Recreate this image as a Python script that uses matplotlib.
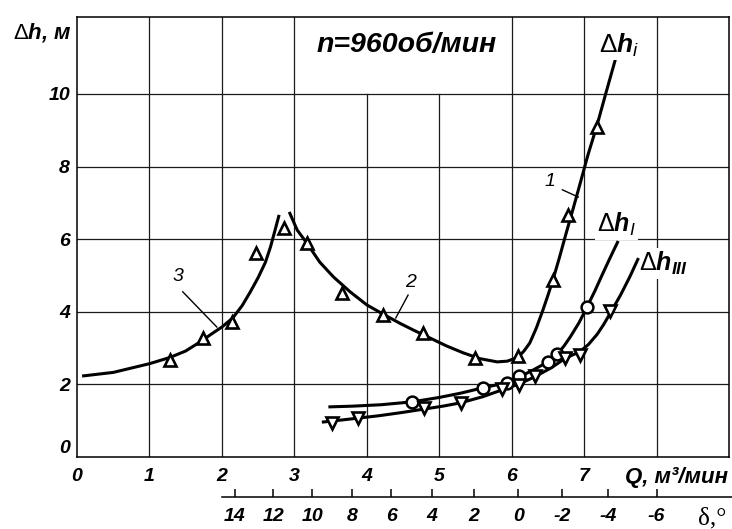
import matplotlib
matplotlib.use("Agg")
import matplotlib.pyplot as plt

plt.rcParams.update({
    "font.family": ["Liberation Sans", "DejaVu Sans"],
    "mathtext.fontset": "custom",
    "mathtext.rm": "Liberation Sans",
    "mathtext.it": "Liberation Sans:italic",
    "mathtext.bf": "Liberation Sans:bold",
    "mathtext.bfit": "Liberation Sans:bold:italic",
})

# ---------------- data ----------------
# curve 3 (left rising branch)
curve3_q = [0.07, 0.50, 1.00, 1.28, 1.50, 1.70, 1.85, 2.00, 2.15, 2.28, 2.39, 2.50, 2.60, 2.67, 2.73, 2.79]
curve3_h = [2.23, 2.33, 2.57, 2.74, 2.92, 3.17, 3.38, 3.58, 3.83, 4.17, 4.54, 4.94, 5.36, 5.78, 6.22, 6.67]
# curve 2 (falling branch)
curve2_q = [2.93, 3.04, 3.17, 3.35, 3.54, 3.77, 4.00, 4.23, 4.46, 4.64, 4.87, 5.10, 5.33, 5.56, 5.80, 5.94, 6.09]
curve2_h = [6.75, 6.25, 5.90, 5.37, 4.96, 4.55, 4.19, 3.93, 3.68, 3.50, 3.28, 3.06, 2.87, 2.71, 2.62, 2.64, 2.75]
# curve 1 (Δh_i)
curve1_q = [6.09, 6.17, 6.25, 6.34, 6.43, 6.50, 6.57, 6.66, 6.75, 6.85, 6.95, 7.05, 7.18, 7.30, 7.43]
curve1_h = [2.75, 2.92, 3.14, 3.55, 4.04, 4.45, 4.88, 5.50, 6.15, 6.85, 7.57, 8.30, 9.15, 10.02, 10.94]
# Δh_I curve
curveI_q = [3.47, 3.80, 4.20, 4.63, 5.00, 5.30, 5.59, 5.80, 5.94, 6.10, 6.30, 6.50, 6.64, 6.72, 6.81,
            6.93, 7.04, 7.15, 7.25, 7.35, 7.47]
curveI_h = [1.38, 1.40, 1.44, 1.52, 1.64, 1.76, 1.90, 1.99, 2.06, 2.20, 2.40, 2.62, 2.86, 3.05, 3.31,
            3.70, 4.13, 4.58, 5.02, 5.45, 5.95]
# Δh_III curve
curveIII_q = [3.38, 3.52, 3.88, 4.18, 4.50, 4.79, 5.05, 5.29, 5.60, 5.87, 6.10, 6.31, 6.55, 6.74, 6.94,
              7.06, 7.18, 7.27, 7.36, 7.50, 7.63, 7.75]
curveIII_h = [0.96, 0.99, 1.07, 1.14, 1.23, 1.32, 1.40, 1.49, 1.66, 1.85, 2.01, 2.20, 2.46, 2.72, 2.90,
              3.10, 3.38, 3.65, 3.96, 4.45, 4.96, 5.48]

# measured points
tri_q = [1.28, 1.74, 2.14, 2.47, 2.86, 3.18, 3.66, 4.22, 4.77, 5.50, 6.09, 6.57, 6.78, 7.18]
tri_h = [2.67, 3.28, 3.72, 5.62, 6.31, 5.90, 4.52, 3.92, 3.42, 2.74, 2.77, 4.88, 6.67, 9.09]
circ_q = [4.63, 5.60, 5.94, 6.10, 6.50, 6.63, 7.04]
circ_h = [1.52, 1.90, 2.04, 2.23, 2.62, 2.84, 4.13]
vtri_q = [3.52, 3.88, 4.79, 5.30, 5.87, 6.10, 6.32, 6.74, 6.94, 7.36]
vtri_h = [0.93, 1.07, 1.34, 1.49, 1.88, 1.98, 2.24, 2.72, 2.82, 4.02]

# axis ticks
x_ticks = [0, 1, 2, 3, 4, 5, 6, 7]
x_tick_labels = ["0", "1", "2", "3", "4", "5", "6", "7"]
y_ticks = [0, 2, 4, 6, 8, 10]
y_tick_labels = ["0", "2", "4", "6", "8", "10"]
# secondary δ scale: labels and the Q position where each sits
delta_labels = ["14", "12", "10", "8", "6", "4", "2", "0", "-2", "-4", "-6"]
delta_q = [2.18, 2.71, 3.25, 3.80, 4.34, 4.90, 5.48, 6.09, 6.70, 7.33, 8.00]

grid_q = [1, 2, 3, 4, 5, 6, 7, 8]
grid_h = [2, 4, 6, 8, 10]

# ---------------- figure ----------------
W, H = 732, 529
fig = plt.figure(figsize=(W / 100, H / 100), dpi=100)
ax = fig.add_axes([77 / W, (H - 457) / H, (729 - 77) / W, (457 - 17) / H])
XMAX, YMAX = 9.0, 12.12
ax.set_xlim(0, XMAX)
ax.set_ylim(0, YMAX)

gc = "#1a1a1a"
for q in grid_q:
    top = 10 if q in (4, 5) else YMAX
    ax.plot([q, q], [0, top], color=gc, lw=0.9, zorder=1)
for hh in grid_h:
    ax.plot([0, XMAX], [hh, hh], color=gc, lw=0.9, zorder=1)

for s in ax.spines.values():
    s.set_linewidth(1.1)
    s.set_color("black")

tick_font = dict(fontsize=14, fontweight="bold", style="italic")
ax.set_xticks(x_ticks)
ax.set_xticklabels(x_tick_labels, **tick_font)
ax.set_yticks(y_ticks)
ax.set_yticklabels(y_tick_labels, **tick_font)
ax.tick_params(axis="x", length=0, pad=8)
ax.tick_params(axis="y", length=0, pad=5)
for lab in ax.get_yticklabels():
    if lab.get_text() == "0":
        lab.set_va("bottom")

# curves
lw = 2.2
for cq, ch in [(curve3_q, curve3_h), (curve2_q, curve2_h), (curve1_q, curve1_h),
               (curveI_q, curveI_h), (curveIII_q, curveIII_h)]:
    ax.plot(cq, ch, color="black", lw=lw, solid_capstyle="butt", solid_joinstyle="round", zorder=4)

# markers
ax.plot(tri_q, tri_h, ls="none", marker="^", ms=8.5, mfc="white", mec="black", mew=1.9, zorder=5)
ax.plot(circ_q, circ_h, ls="none", marker="o", ms=8.5, mfc="white", mec="black", mew=1.8, zorder=5)
ax.plot(vtri_q, vtri_h, ls="none", marker="v", ms=8.5, mfc="white", mec="black", mew=1.9, zorder=5)

# curve number labels with leader lines
ax.text(1.39, 4.96, "3", fontsize=14, style="italic", ha="center", va="center", zorder=6)
ax.plot([1.46, 1.93], [4.55, 3.58], color="black", lw=1.0, zorder=3)
ax.text(4.61, 4.82, "2", fontsize=14, style="italic", ha="center", va="center", zorder=6)
ax.plot([4.57, 4.40], [4.46, 3.83], color="black", lw=1.0, zorder=3)
ax.text(6.53, 7.58, "1", fontsize=14, style="italic", ha="center", va="center", zorder=6)
ax.plot([6.70, 6.92], [7.36, 7.16], color="black", lw=1.0, zorder=3)

# title
ax.text(4.555, 11.16, "n=960об/мин", fontsize=20.5, fontweight="bold", style="italic",
        ha="center", va="baseline", zorder=6)

# curve name labels
ax.text(7.21, 11.13, r"$\Delta\mathbfit{h}_{\mathit{i}}$", fontsize=19, ha="left", va="baseline",
        zorder=6, bbox=dict(facecolor="white", edgecolor="none", pad=1))
ax.text(7.18, 6.20, r"$\Delta\mathbfit{h}_{\mathit{I}}$", fontsize=18, ha="left", va="baseline",
        zorder=3, bbox=dict(facecolor="white", edgecolor="none", pad=1.5))
ax.text(7.76, 5.12, r"$\Delta\mathbfit{h}_{\mathbfit{III}}$", fontsize=18, ha="left", va="baseline",
        zorder=3, bbox=dict(facecolor="white", edgecolor="none", pad=1.5))

# axis titles
fig.text(13 / W, (H - 39) / H, r"$\Delta\mathbfit{h}$, м", fontsize=16, fontweight="bold",
         style="italic", ha="left", va="baseline")
ax.text(7.56, -0.72, "Q, м³/мин", fontsize=16, fontweight="bold", style="italic",
        ha="left", va="baseline", clip_on=False)

# secondary δ scale
ax2 = fig.add_axes([77 / W, (H - 497) / H, (729 - 77) / W, 0.0001])
ax2.set_xlim(0, XMAX)
ax2.patch.set_visible(False)
for side in ("top", "left", "right"):
    ax2.spines[side].set_visible(False)
ax2.spines["bottom"].set_bounds(2.0, 9.05)
ax2.spines["bottom"].set_linewidth(1.1)
ax2.set_yticks([])
ax2.set_xticks(delta_q)
ax2.set_xticklabels(delta_labels, **tick_font)
ax2.tick_params(axis="x", direction="in", length=5.5, width=1.1, pad=8)
fig.text(698 / W, (H - 524) / H, "δ,°", fontsize=18, family=["Liberation Serif", "DejaVu Serif"],
         ha="left", va="baseline")

fig.savefig("out.png", dpi=100)
